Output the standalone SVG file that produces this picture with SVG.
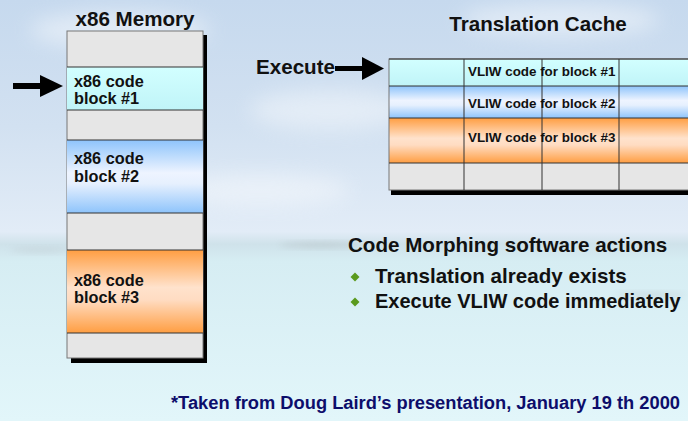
<svg xmlns="http://www.w3.org/2000/svg" width="688" height="421" viewBox="0 0 688 421">
<defs>
<linearGradient id="sky" x1="0" y1="0" x2="0" y2="1">
<stop offset="0" stop-color="#c6d9ee"/>
<stop offset="0.3" stop-color="#d2e1f1"/>
<stop offset="0.55" stop-color="#e2ecf7"/>
<stop offset="0.58" stop-color="#cfe2ea"/>
<stop offset="0.62" stop-color="#d6edf3"/>
<stop offset="1" stop-color="#e2f6fa"/>
</linearGradient>
<filter id="blur" x="-50%" y="-50%" width="200%" height="200%"><feGaussianBlur stdDeviation="10"/></filter>
<filter id="blur2" x="-50%" y="-50%" width="200%" height="200%"><feGaussianBlur stdDeviation="3"/></filter>
<linearGradient id="cyan" x1="0" y1="0" x2="0" y2="1">
<stop offset="0" stop-color="#d2ffff"/>
<stop offset="1" stop-color="#c0f4f8"/>
</linearGradient>
<linearGradient id="blue" x1="0" y1="0" x2="0" y2="1">
<stop offset="0" stop-color="#8ec4fb"/>
<stop offset="0.45" stop-color="#eef4ff"/>
<stop offset="0.6" stop-color="#e6f0fe"/>
<stop offset="1" stop-color="#8ec4fb"/>
</linearGradient>
<linearGradient id="orange" x1="0" y1="0" x2="0" y2="1">
<stop offset="0" stop-color="#ff9e42"/>
<stop offset="0.45" stop-color="#ffe2cc"/>
<stop offset="0.6" stop-color="#ffdcc2"/>
<stop offset="1" stop-color="#ff9e42"/>
</linearGradient>
<style>
text{font-family:"Liberation Sans",Arial,sans-serif;font-weight:bold;fill:#111}
.title{font-size:20.6px}
.blk{font-size:16.3px}
.cell{font-size:13.4px}
.note{font-size:18.3px;fill:#0d0d6b}
.gray{fill:#e6e6e6}
.line{stroke:#333;stroke-width:1}
.edge{fill:none;stroke:#777;stroke-width:1}
.arrow{fill:#000}
.bullet{fill:#5a9a1e}
</style>
</defs>

<g id="background">
<rect width="688" height="421" fill="url(#sky)"/>
<ellipse cx="120" cy="30" rx="90" ry="18" fill="#ffffff" opacity="0.45" filter="url(#blur)"/>
<ellipse cx="330" cy="110" rx="80" ry="20" fill="#ffffff" opacity="0.4" filter="url(#blur)"/>
<ellipse cx="560" cy="20" rx="100" ry="16" fill="#ffffff" opacity="0.45" filter="url(#blur)"/>
<ellipse cx="260" cy="190" rx="90" ry="16" fill="#ffffff" opacity="0.4" filter="url(#blur)"/>
<ellipse cx="320" cy="245" rx="40" ry="3" fill="#b8c4c8" opacity="0.6" filter="url(#blur2)"/>
<ellipse cx="40" cy="250" rx="30" ry="3" fill="#c0ccd2" opacity="0.5" filter="url(#blur2)"/>
<ellipse cx="650" cy="295" rx="35" ry="3" fill="#c0ccd2" opacity="0.5" filter="url(#blur2)"/>
</g>

<g id="memory">
<text class="title" x="135" y="26" text-anchor="middle">x86 Memory</text>
<rect x="71" y="35" width="136" height="328" fill="#000"/>
<rect x="67" y="31" width="136" height="36" class="gray"/>
<rect x="67" y="110" width="136" height="30" class="gray"/>
<rect x="67" y="213" width="136" height="37" class="gray"/>
<rect x="67" y="333" width="136" height="25" class="gray"/>
<rect x="67" y="31" width="136" height="327" class="edge"/>
</g>

<g id="x86-block-1">
<rect x="67" y="67" width="136" height="43" fill="url(#cyan)"/>
<line x1="67" y1="67" x2="203" y2="67" class="line"/>
<line x1="67" y1="110" x2="203" y2="110" class="line"/>
<text class="blk" x="74" y="87">x86 code</text>
<text class="blk" x="74" y="104">block #1</text>
</g>

<g id="x86-block-2">
<rect x="67" y="140" width="136" height="73" fill="url(#blue)"/>
<line x1="67" y1="140" x2="203" y2="140" class="line"/>
<line x1="67" y1="213" x2="203" y2="213" class="line"/>
<text class="blk" x="74" y="164">x86 code</text>
<text class="blk" x="74" y="182">block #2</text>
</g>

<g id="x86-block-3">
<rect x="67" y="250" width="136" height="83" fill="url(#orange)"/>
<line x1="67" y1="250" x2="203" y2="250" class="line" stroke="#555"/>
<line x1="67" y1="333" x2="203" y2="333" class="line" stroke="#555"/>
<text class="blk" x="74" y="286">x86 code</text>
<text class="blk" x="74" y="303">block #3</text>
</g>

<g id="translation-cache">
<text class="title" x="538" y="31" text-anchor="middle">Translation Cache</text>
<rect x="391" y="62" width="310" height="133" fill="#000"/>
<rect x="389" y="59" width="310" height="27" fill="url(#cyan)"/>
<rect x="389" y="86" width="310" height="32" fill="url(#blue)"/>
<rect x="389" y="118" width="310" height="45" fill="url(#orange)"/>
<rect x="389" y="163" width="310" height="27" class="gray"/>
<rect x="389" y="59" width="310" height="131" class="edge"/>
<line x1="389" y1="59" x2="688" y2="59" class="line"/>
<line x1="389" y1="86" x2="688" y2="86" class="line"/>
<line x1="389" y1="118" x2="688" y2="118" class="line"/>
<line x1="389" y1="163" x2="688" y2="163" class="line"/>
<line x1="464" y1="59" x2="464" y2="190" class="line"/>
<line x1="542" y1="59" x2="542" y2="190" class="line"/>
<line x1="619" y1="59" x2="619" y2="190" class="line"/>
<text class="cell" x="468" y="76">VLIW code for block #1</text>
<text class="cell" x="468" y="108">VLIW code for block #2</text>
<text class="cell" x="468" y="142">VLIW code for block #3</text>
</g>

<g id="connectors">
<rect x="13" y="83" width="29" height="6" class="arrow"/>
<polygon points="40,75 63,86 40,97" class="arrow"/>
<text class="title" x="256" y="74">Execute</text>
<rect x="335" y="66" width="29" height="5" class="arrow"/>
<polygon points="362,57 384,68.5 362,80" class="arrow"/>
</g>

<g id="actions">
<text class="title" x="348" y="252">Code Morphing software actions</text>
<polygon points="355,272.5 359.5,277 355,281.5 350.5,277" class="bullet"/>
<text class="title" x="375" y="283">Translation already exists</text>
<polygon points="355,297.5 359.5,302 355,306.5 350.5,302" class="bullet"/>
<text class="title" x="375" y="308" style="font-size:20px">Execute VLIW code immediately</text>
</g>

<g id="footnote">
<text class="note" x="171" y="409">*Taken from Doug Laird’s presentation, January 19 th 2000</text>
</g>
</svg>
